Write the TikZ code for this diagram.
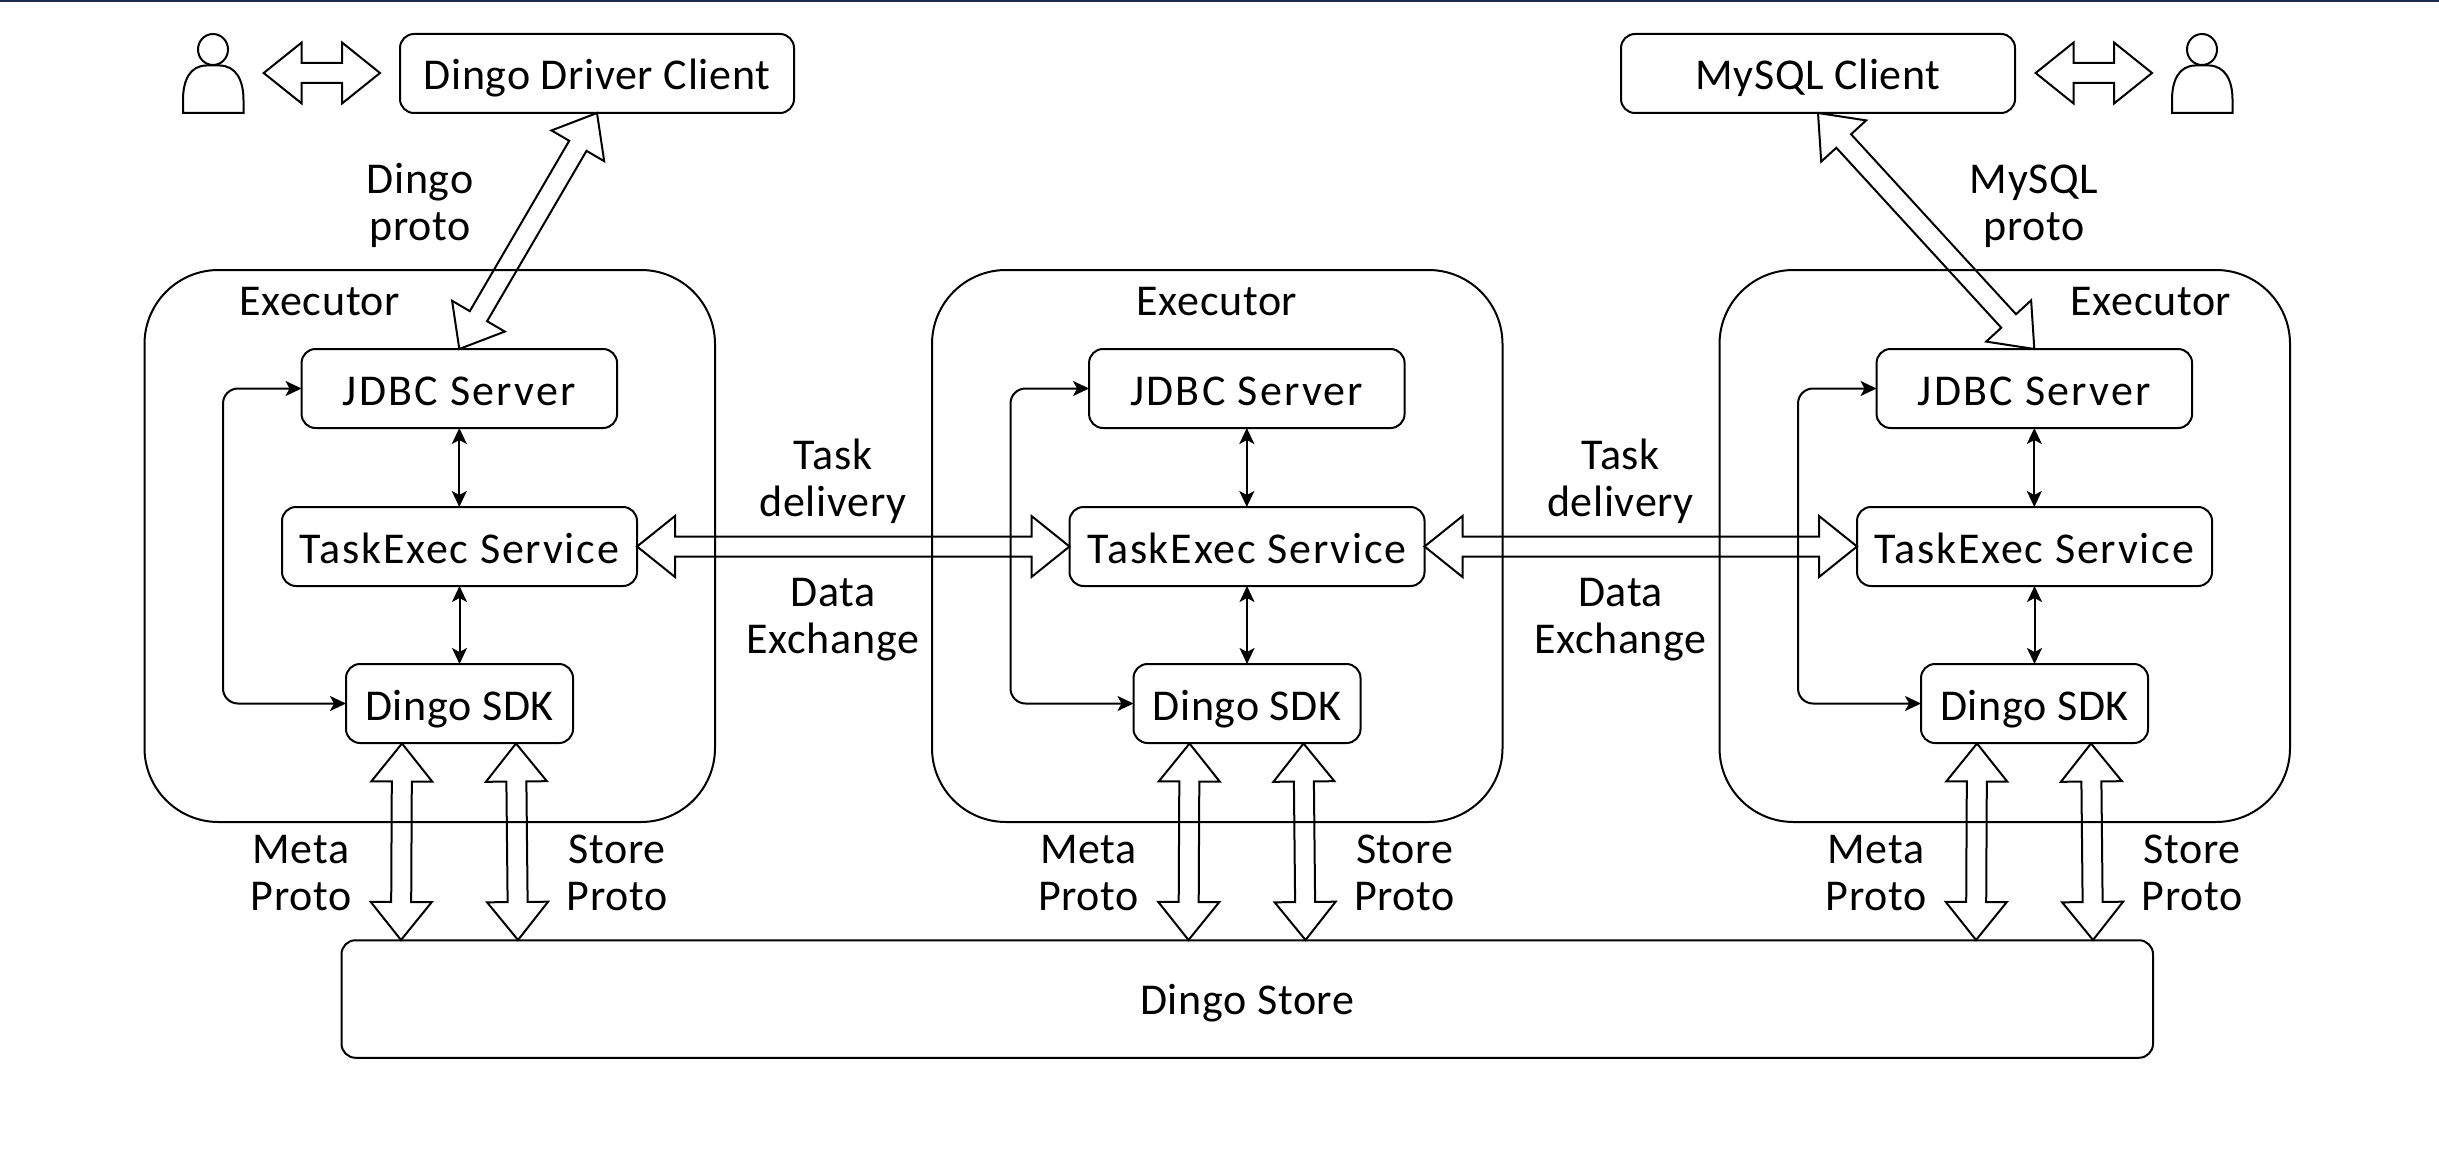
\documentclass[tikz,border=0pt]{standalone}
\usepackage{fontspec}
\usetikzlibrary{calc,arrows.meta}
\setmainfont[LetterSpace=1.5]{Carlito}
\newcommand\labfont{\fontsize{22}{23.5}\selectfont}
\definecolor{topline}{HTML}{1B2F4D}
\tikzset{
  x=0.5pt,y=-0.5pt,
  box/.style={draw=black,line width=1pt,rounded corners=7pt,inner sep=0pt,outer sep=0pt,
    minimum height=39.5pt,text height=16.5pt,text depth=0pt,font=\labfont},
  lab/.style={inner sep=0pt,outer sep=0pt,align=center,font=\labfont},
  execbox/.style={draw=black,line width=1pt,rounded corners=37pt,inner sep=0pt,outer sep=0pt,
    minimum width=285.25pt,minimum height=276pt},
  blockline/.style={draw=black,line width=1pt,line join=miter},
  thin arrow/.style={draw=black,line width=1pt,{Stealth[length=8pt,width=7.5pt,inset=2pt]}-{Stealth[length=8pt,width=7.5pt,inset=2pt]}},
  personline/.style={draw=black,line width=1pt},
}
\newcommand\bidir[2]{%
  \draw[blockline] (#1)
    -- ($(#1)!19pt!(#2)!15.25pt!90:(#2)$)
    -- ($(#1)!19pt!(#2)!5pt!90:(#2)$)
    -- ($(#2)!19pt!(#1)!5pt!-90:(#1)$)
    -- ($(#2)!19pt!(#1)!15.25pt!-90:(#1)$)
    -- (#2)
    -- ($(#2)!19pt!(#1)!15.25pt!90:(#1)$)
    -- ($(#2)!19pt!(#1)!5pt!90:(#1)$)
    -- ($(#1)!19pt!(#2)!5pt!-90:(#2)$)
    -- ($(#1)!19pt!(#2)!15.25pt!-90:(#2)$)
    -- cycle;}
\newcommand\person[1]{%
  \begin{scope}[shift={(#1,0)}]
    \draw[personline] (213,49.5) ellipse [x radius=15,y radius=15.5];
    \draw[personline] (183,113) -- (183,100) .. controls (183,80) and (190,66) .. (206,65.5)
      -- (220,65.5) .. controls (236,66) and (243.5,80) .. (243.5,100) -- (243.5,113) -- cycle;
  \end{scope}}
\begin{document}
\begin{tikzpicture}
\useasboundingbox (0,0) rectangle (2439,1155);
\fill[white] (0,0) rectangle (2439,1155);
\fill[topline] (0,0) rectangle (2439,2);

\node[box,minimum width=197pt] (driver) at (597,73.5) {Dingo Driver Client};
\node[box,minimum width=197pt] (mysql) at (1818,73.5) {MySQL Client};
\node[box,minimum width=905.75pt,minimum height=58.75pt,text height=15.5pt] (store) at (1247.25,999) {Dingo Store};

\person{0}
\person{1989}
\coordinate (userLa) at (263.7,73);
\coordinate (userLb) at (380,73);
\coordinate (userRa) at (2035.6,73);
\coordinate (userRb) at (2152,73);
\bidir{userLa}{userLb}
\bidir{userRa}{userRb}

\foreach \i/\dx/\lx in {A/0/320,B/787.5/1217,C/1575/2151}{
  \node[execbox] (exec\i) at (429.75+\dx,546) {};
  \node[lab,anchor=base] (execlab\i) at (\lx,315) {Executor};
  \node[box,minimum width=157.75pt] (jdbc\i) at (459.3+\dx,388.5) {\addfontfeature{LetterSpace=5}JDBC Server};
  \node[box,minimum width=177.5pt] (task\i) at (459.5+\dx,546.5) {\addfontfeature{LetterSpace=4}TaskExec Service};
  \node[box,minimum width=113.5pt] (sdk\i) at (459.5+\dx,703.5) {Dingo SDK};
  \draw[thin arrow] (jdbc\i.south) -- (jdbc\i.south |- task\i.north);
  \draw[thin arrow] (task\i.south) -- (task\i.south |- sdk\i.north);
  \coordinate (loop\i) at (223+\dx,546);
  \draw[thin arrow,rounded corners=7.5pt] (jdbc\i.west) -- (jdbc\i.west -| loop\i) -- (sdk\i.west -| loop\i) -- (sdk\i.west);
  \coordinate (metaTop\i) at (402+\dx,743.5);
  \coordinate (metaBot\i) at (401+\dx,940);
  \coordinate (storeTop\i) at (516+\dx,743.5);
  \coordinate (storeBot\i) at (518+\dx,940);
  \bidir{metaTop\i}{metaBot\i}
  \bidir{storeTop\i}{storeBot\i}
  \node[lab] (metalab\i) at (301+\dx,877.8) {\strut Meta\\\strut Proto};
  \node[lab] (storelab\i) at (617+\dx,877.8) {\strut Store\\\strut Proto};
}

\bidir{driver.south}{jdbcA.north}
\bidir{mysql.south}{jdbcC.north}
\bidir{taskA.east}{taskB.west}
\bidir{taskB.east}{taskC.west}

\node[lab] (dproto) at (420,208.1) {\strut Dingo\\\strut proto};
\node[lab] (mproto) at (2034,208.1) {\strut MySQL\\\strut proto};
\node[lab] (taskAB) at (833,483.6) {\strut Task\\\strut delivery};
\node[lab] (dataAB) at (833,620.6) {\strut Data\\\strut Exchange};
\node[lab] (taskBC) at (1620.5,483.6) {\strut Task\\\strut delivery};
\node[lab] (dataBC) at (1620.5,620.6) {\strut Data\\\strut Exchange};
\end{tikzpicture}
\end{document}
